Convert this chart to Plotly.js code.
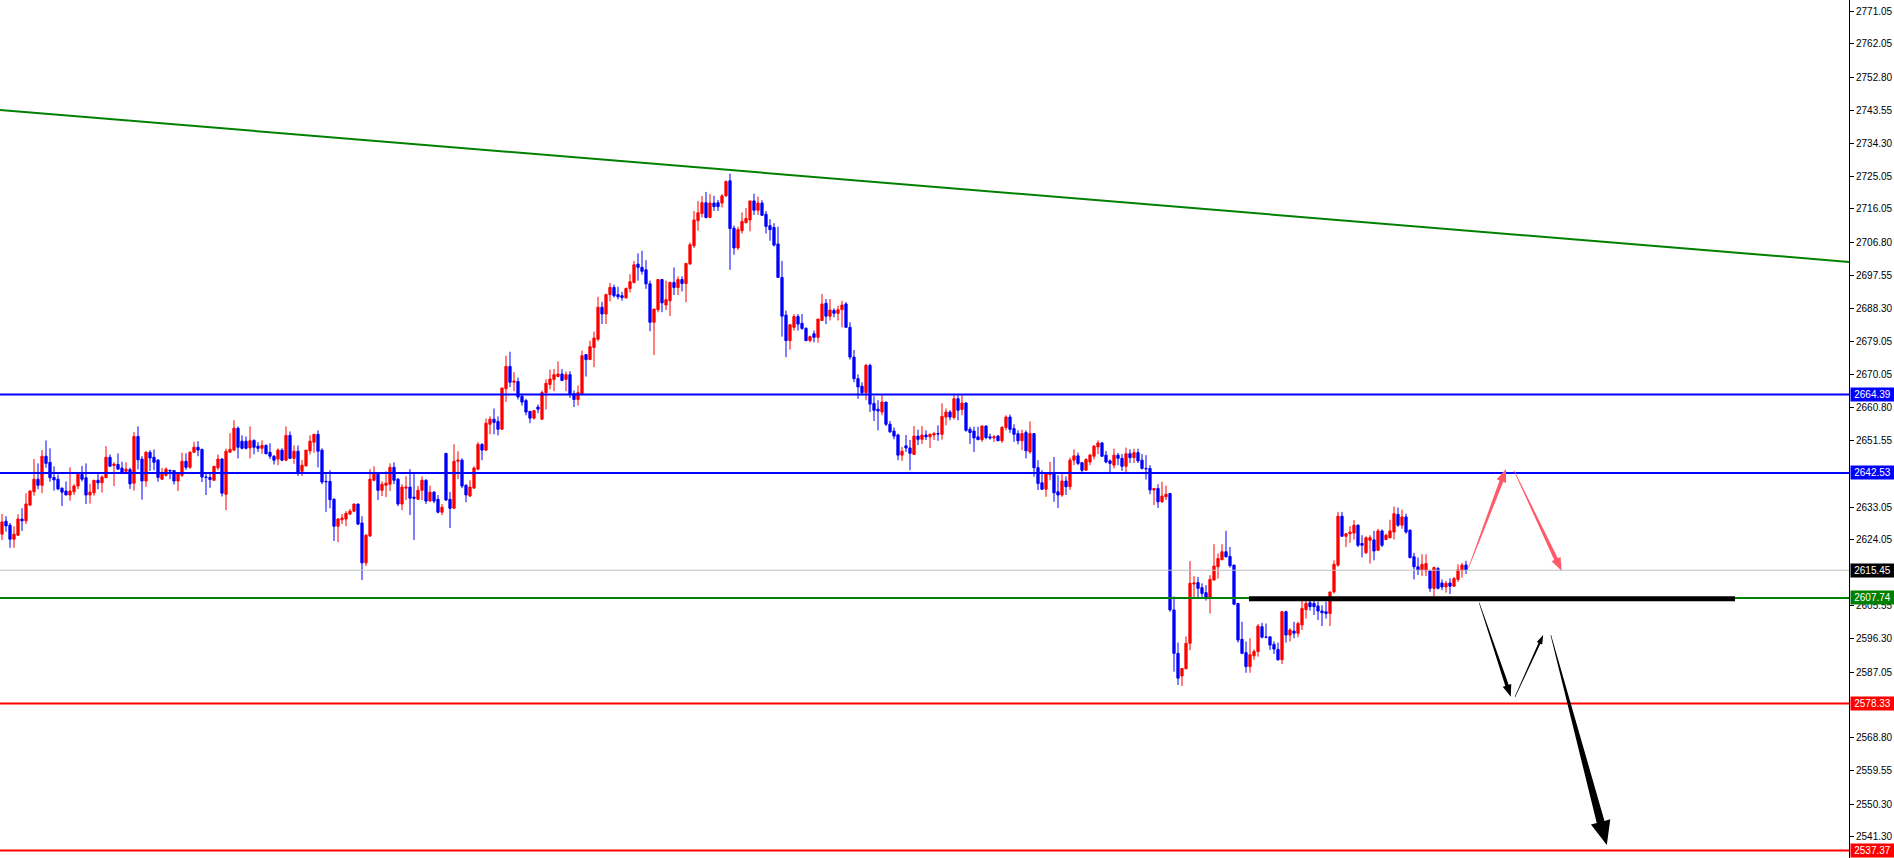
<!DOCTYPE html>
<html><head><meta charset="utf-8">
<script src="https://cdn.plot.ly/plotly-3.0.1.min.js"></script>
<style>html,body{margin:0;padding:0;background:#fff;overflow:hidden}#chart{width:1894px;height:858px}</style>
</head><body><div id="chart"></div>
<script>
const open=[2625.5,2629.1,2628.0,2624.1,2625.2,2629.7,2629.2,2633.6,2637.3,2640.8,
2639.1,2647.2,2645.5,2641.3,2640.8,2638.3,2637.5,2636.4,2637.3,2638.9,
2642.1,2641.2,2636.4,2637.0,2640.5,2639.8,2641.2,2646.9,2644.6,2644.9,
2643.9,2643.0,2643.5,2639.7,2652.7,2646.4,2640.3,2648.3,2646.9,2646.1,
2640.8,2641.9,2643.3,2643.2,2640.3,2641.9,2645.8,2644.1,2648.3,2649.7,
2649.1,2641.4,2641.3,2640.5,2644.0,2646.4,2636.6,2648.3,2648.9,2655.0,
2651.4,2651.4,2649.5,2651.6,2650.0,2649.4,2650.2,2648.3,2647.2,2646.4,
2648.9,2646.1,2653.0,2646.6,2648.6,2643.0,2644.5,2648.7,2651.1,2653.3,
2648.9,2640.2,2640.2,2635.2,2627.7,2629.5,2629.7,2631.1,2631.9,2633.9,
2628.6,2617.5,2625.0,2640.5,2642.2,2637.7,2639.1,2639.4,2644.1,2640.8,
2633.9,2638.3,2638.6,2635.8,2635.2,2637.7,2640.5,2634.7,2637.2,2635.2,
2631.6,2648.0,2635.2,2632.7,2645.8,2646.1,2639.1,2636.1,2638.3,2643.6,
2650.5,2648.9,2656.1,2657.5,2656.9,2654.7,2666.0,2672.2,2667.8,2668.0,
2663.9,2662.7,2659.7,2657.8,2660.9,2657.5,2664.9,2667.2,2668.6,2669.4,
2670.1,2668.6,2669.9,2664.6,2663.0,2664.6,2675.5,2674.1,2677.5,2679.8,
2688.7,2686.8,2692.2,2694.2,2692.2,2691.9,2691.3,2693.9,2695.6,2700.7,
2699.8,2699.1,2695.2,2684.5,2688.0,2696.4,2689.3,2690.5,2695.6,2694.2,
2696.4,2695.3,2700.7,2705.8,2712.8,2714.8,2717.8,2713.7,2717.7,2717.8,
2717.7,2719.7,2723.9,2710.7,2705.2,2710.0,2712.2,2713.0,2718.3,2715.7,
2717.7,2714.6,2711.4,2710.9,2706.3,2697.0,2686.5,2679.4,2683.1,2686.1,
2684.2,2682.8,2679.4,2681.3,2680.3,2685.0,2689.8,2686.2,2687.8,2687.0,
2688.0,2689.6,2683.1,2674.8,2668.8,2666.7,2664.9,2672.5,2661.9,2660.3,
2659.5,2662.3,2656.1,2654.2,2653.1,2647.5,2650.1,2649.5,2647.7,2652.8,
2651.9,2653.1,2652.6,2653.1,2653.5,2653.3,2658.1,2659.5,2658.0,2663.2,
2660.2,2662.0,2654.7,2654.2,2652.6,2651.8,2655.6,2652.6,2652.3,2652.8,
2651.5,2655.2,2658.1,2654.9,2653.5,2651.5,2653.8,2648.4,2653.5,2644.0,
2639.8,2638.0,2642.1,2642.6,2637.3,2636.4,2640.3,2638.7,2646.1,2647.3,
2645.4,2643.3,2645.6,2647.2,2649.8,2650.9,2647.5,2645.9,2644.7,2647.5,
2646.6,2644.4,2647.9,2646.8,2648.2,2646.1,2643.8,2643.8,2637.8,2638.2,
2634.5,2635.9,2636.8,2604.4,2592.3,2586.0,2588.0,2595.1,2611.6,2612.0,
2610.6,2609.2,2607.6,2612.7,2616.4,2618.4,2620.6,2619.3,2616.9,2606.2,
2596.2,2592.5,2588.6,2591.6,2592.8,2599.7,2596.8,2596.9,2594.8,2593.4,
2590.5,2603.9,2597.4,2598.5,2597.9,2600.2,2604.5,2606.4,2606.2,2605.5,
2604.1,2603.9,2603.4,2609.4,2616.9,2630.5,2624.9,2625.6,2625.8,2628.0,
2622.9,2620.3,2623.8,2623.9,2621.0,2626.4,2624.0,2624.5,2626.1,2631.0,
2628.0,2630.3,2626.6,2619.2,2616.4,2615.5,2615.3,2615.3,2610.4,2615.9,
2611.9,2610.8,2611.9,2611.0,2612.9,2615.4,2616.9];
const high=[2631.1,2630.5,2628.6,2627.7,2631.0,2632.7,2636.9,2637.7,2646.4,2645.2,
2648.9,2651.6,2649.4,2644.4,2642.1,2638.5,2640.2,2644.1,2639.4,2642.5,
2644.5,2645.2,2639.5,2640.5,2642.6,2641.9,2650.0,2647.7,2645.5,2648.0,
2645.7,2645.5,2644.0,2653.9,2655.5,2647.2,2648.6,2648.9,2649.1,2646.4,
2643.9,2644.1,2643.3,2643.3,2642.4,2648.2,2648.0,2648.6,2651.2,2651.4,
2649.3,2642.2,2642.4,2644.4,2647.7,2646.7,2649.3,2653.6,2657.2,2655.5,
2653.0,2652.7,2655.5,2651.9,2651.1,2651.6,2650.5,2650.8,2647.5,2649.4,
2649.4,2655.5,2654.1,2650.2,2650.2,2646.1,2648.9,2653.0,2653.3,2654.4,
2649.4,2642.2,2643.3,2635.5,2630.0,2631.1,2631.9,2632.5,2633.9,2633.9,
2630.5,2625.5,2643.6,2644.4,2642.7,2640.2,2643.0,2645.2,2645.5,2641.1,
2639.4,2641.6,2643.6,2642.2,2638.9,2641.6,2640.8,2639.0,2637.5,2636.4,
2633.9,2648.0,2637.2,2650.5,2648.6,2646.6,2639.4,2640.5,2644.4,2651.1,
2650.8,2657.7,2658.3,2660.5,2658.3,2666.2,2675.2,2676.3,2670.6,2669.1,
2664.6,2663.2,2659.7,2659.9,2661.6,2665.5,2668.6,2671.3,2671.5,2673.6,
2671.5,2670.8,2670.9,2665.5,2666.9,2676.6,2675.5,2679.4,2681.9,2691.6,
2690.2,2692.5,2695.5,2695.0,2694.4,2693.0,2694.2,2697.9,2701.6,2703.7,
2704.4,2701.8,2696.1,2688.2,2696.5,2696.5,2696.1,2695.8,2699.8,2697.3,
2697.3,2700.9,2706.7,2715.5,2718.3,2719.7,2720.8,2720.2,2719.7,2718.6,
2720.2,2724.0,2725.9,2711.4,2711.1,2715.1,2716.3,2718.3,2720.3,2719.5,
2718.5,2715.5,2713.2,2712.1,2711.1,2701.6,2687.8,2684.0,2686.8,2686.8,
2686.8,2683.1,2680.8,2682.2,2685.4,2692.4,2691.0,2691.0,2688.4,2689.1,
2690.5,2690.1,2684.5,2676.8,2670.0,2667.8,2672.9,2673.0,2663.9,2662.8,
2664.2,2662.3,2657.0,2655.2,2653.5,2649.8,2653.1,2651.7,2655.6,2654.6,
2655.6,2654.4,2653.5,2654.0,2655.8,2661.9,2660.5,2660.0,2664.2,2664.2,
2664.2,2662.3,2655.4,2655.4,2655.4,2655.8,2655.8,2653.5,2653.1,2653.1,
2655.6,2658.6,2658.8,2656.1,2654.4,2654.6,2654.4,2656.9,2653.5,2646.1,
2643.3,2642.4,2645.6,2647.0,2641.9,2642.6,2641.6,2646.8,2649.1,2648.2,
2645.6,2646.6,2647.9,2650.3,2651.6,2651.2,2648.7,2646.3,2649.3,2648.1,
2647.8,2649.6,2649.1,2649.3,2649.3,2647.8,2647.5,2644.7,2638.2,2639.4,
2640.1,2639.0,2637.0,2608.1,2595.3,2588.1,2597.0,2618.0,2613.8,2613.6,
2611.8,2611.3,2614.1,2622.7,2620.1,2622.7,2626.4,2621.9,2616.9,2606.2,
2601.1,2595.6,2596.5,2593.4,2600.5,2600.8,2600.6,2596.9,2595.6,2595.3,
2603.9,2604.2,2599.3,2601.1,2601.1,2607.1,2607.1,2607.1,2606.9,2606.7,
2605.7,2606.7,2609.4,2618.2,2631.7,2631.7,2625.8,2627.7,2629.4,2628.2,
2625.2,2624.9,2625.2,2626.4,2627.0,2626.8,2625.6,2629.5,2633.2,2632.9,
2632.3,2631.2,2626.8,2620.3,2619.0,2619.9,2619.9,2615.6,2616.4,2616.4,
2612.9,2612.5,2613.2,2613.6,2617.1,2617.5,2618.1];
const low=[2623.9,2626.2,2621.7,2621.7,2625.0,2626.4,2628.3,2633.3,2636.2,2638.0,
2636.9,2644.0,2640.1,2637.6,2637.7,2633.3,2636.4,2634.8,2636.4,2638.0,
2640.2,2633.9,2634.0,2636.2,2638.0,2637.1,2641.2,2644.4,2638.9,2643.6,
2642.2,2642.2,2638.1,2637.6,2643.5,2635.1,2638.7,2643.1,2643.3,2640.1,
2640.6,2641.5,2640.8,2639.3,2637.5,2641.4,2643.4,2643.7,2648.1,2647.2,
2640.0,2636.4,2638.4,2640.3,2643.3,2636.0,2632.2,2648.3,2648.6,2646.6,
2649.1,2649.1,2646.6,2647.7,2648.4,2647.9,2647.7,2646.4,2644.9,2644.7,
2645.8,2645.8,2646.4,2645.1,2641.7,2641.7,2644.4,2647.7,2648.2,2644.1,
2639.4,2631.7,2632.7,2623.6,2623.3,2628.3,2627.7,2630.8,2631.6,2628.0,
2612.7,2616.6,2624.7,2640.2,2635.0,2636.1,2635.8,2637.5,2639.4,2633.3,
2632.2,2635.0,2630.8,2623.9,2635.2,2635.0,2633.9,2634.7,2634.1,2631.3,
2630.8,2634.7,2627.2,2632.7,2640.8,2638.3,2634.4,2635.9,2638.3,2643.3,
2646.1,2648.6,2653.3,2653.3,2653.0,2654.6,2662.3,2666.4,2665.3,2663.0,
2661.3,2658.6,2656.4,2657.4,2659.2,2657.4,2660.2,2665.8,2665.3,2669.2,
2668.1,2665.3,2663.4,2660.9,2661.3,2664.6,2669.4,2674.0,2672.0,2679.2,
2684.0,2684.0,2690.3,2691.4,2690.9,2690.5,2691.1,2692.8,2695.3,2696.1,
2697.8,2693.8,2682.0,2675.4,2687.3,2687.3,2687.9,2686.2,2692.1,2692.1,
2693.1,2690.1,2700.7,2705.2,2710.0,2713.7,2713.4,2713.5,2715.5,2715.5,
2716.5,2719.5,2699.1,2703.3,2704.6,2709.2,2712.2,2709.8,2714.4,2714.4,
2714.1,2709.2,2707.2,2705.6,2697.0,2680.5,2674.8,2676.9,2682.2,2682.2,
2682.4,2679.2,2678.9,2678.9,2678.8,2685.0,2684.0,2685.0,2685.9,2685.0,
2683.1,2683.1,2674.1,2667.8,2663.2,2664.1,2662.8,2659.5,2657.0,2654.4,
2658.6,2655.6,2653.7,2651.9,2646.1,2645.9,2648.4,2643.3,2647.7,2650.3,
2650.6,2651.7,2649.5,2651.7,2651.5,2651.8,2655.8,2657.2,2657.4,2657.2,
2658.6,2654.0,2650.6,2648.4,2651.7,2651.2,2651.9,2651.8,2651.2,2651.5,
2650.9,2654.4,2653.7,2651.2,2650.5,2648.9,2646.6,2647.9,2641.5,2637.8,
2637.8,2635.9,2640.5,2634.5,2632.8,2635.9,2636.4,2637.8,2644.7,2644.7,
2642.8,2643.3,2644.7,2646.3,2647.8,2647.0,2645.2,2642.8,2643.8,2644.7,
2643.1,2642.2,2645.3,2645.3,2645.3,2643.5,2640.7,2636.6,2633.6,2632.8,
2634.2,2635.0,2603.9,2587.2,2583.5,2583.2,2587.9,2593.2,2607.6,2607.6,
2607.6,2607.0,2603.4,2612.7,2613.1,2618.2,2619.0,2616.2,2605.7,2595.3,
2592.1,2586.9,2586.9,2590.5,2591.4,2596.5,2596.5,2593.2,2592.1,2590.3,
2589.3,2595.3,2595.6,2596.5,2596.8,2598.8,2602.0,2604.2,2603.0,2601.6,
2599.9,2602.0,2599.9,2609.0,2616.4,2624.9,2621.9,2623.1,2624.0,2621.9,
2619.0,2620.0,2617.3,2618.2,2620.8,2621.9,2623.8,2624.3,2624.0,2627.5,
2627.0,2625.6,2618.7,2612.9,2614.1,2613.8,2613.8,2609.4,2608.2,2610.1,
2609.9,2609.2,2608.8,2610.8,2612.2,2613.4,2614.4];
const close=[2628.9,2627.8,2624.1,2625.5,2629.7,2629.2,2633.9,2637.5,2640.8,2639.1,
2647.2,2645.2,2641.2,2640.6,2638.1,2637.2,2636.4,2637.5,2638.9,2642.2,
2640.8,2636.4,2637.2,2640.5,2639.8,2641.4,2646.9,2644.4,2645.0,2643.6,
2642.7,2643.6,2639.5,2652.7,2646.2,2640.3,2648.3,2646.7,2645.5,2641.3,
2642.2,2643.6,2643.1,2640.3,2642.2,2645.8,2644.1,2648.3,2649.7,2648.9,
2641.4,2641.3,2640.7,2644.4,2646.4,2636.9,2648.6,2649.1,2655.0,2649.7,
2649.4,2649.4,2651.5,2649.7,2649.4,2650.2,2647.9,2647.2,2646.1,2648.9,
2646.1,2653.0,2646.6,2648.6,2642.8,2644.7,2648.9,2651.4,2653.3,2648.6,
2640.0,2640.1,2635.1,2627.7,2629.7,2630.0,2631.3,2631.9,2633.9,2628.3,
2617.5,2625.2,2640.8,2642.2,2637.7,2639.4,2639.7,2644.1,2640.5,2633.9,
2638.6,2638.6,2635.5,2635.5,2637.7,2640.5,2634.7,2637.2,2634.7,2631.6,
2633.0,2635.0,2632.7,2645.8,2646.1,2638.9,2636.4,2638.6,2643.9,2650.5,
2648.9,2656.4,2657.5,2656.6,2654.7,2666.2,2672.2,2667.8,2668.1,2663.7,
2662.3,2659.5,2657.8,2659.9,2660.3,2664.9,2667.5,2668.7,2669.9,2670.1,
2668.3,2669.9,2664.4,2663.0,2664.9,2675.2,2674.1,2677.7,2680.1,2688.7,
2686.8,2692.2,2694.2,2691.9,2691.6,2691.4,2693.9,2695.8,2700.5,2699.8,
2698.7,2695.2,2684.5,2688.2,2696.4,2689.9,2690.8,2695.6,2694.2,2696.4,
2695.3,2700.9,2706.1,2713.0,2715.0,2717.8,2713.7,2717.7,2716.7,2716.7,
2719.7,2723.7,2710.6,2705.2,2710.3,2712.6,2713.4,2718.3,2715.7,2717.7,
2714.3,2711.2,2710.3,2706.0,2697.0,2686.2,2679.4,2683.8,2686.1,2684.0,
2682.8,2679.4,2680.5,2680.3,2685.4,2689.6,2686.2,2687.9,2687.0,2688.0,
2689.3,2683.1,2674.8,2668.8,2666.5,2664.9,2672.5,2661.7,2660.0,2659.8,
2662.3,2656.1,2654.0,2652.8,2647.5,2648.6,2649.5,2648.0,2652.8,2651.9,
2653.1,2652.6,2653.3,2653.5,2653.4,2658.3,2659.5,2658.1,2663.2,2660.0,
2662.0,2654.4,2653.8,2652.3,2651.8,2655.6,2652.4,2652.3,2652.6,2651.5,
2655.2,2658.1,2654.7,2653.3,2651.5,2653.5,2648.7,2653.5,2644.0,2639.6,
2638.0,2642.2,2642.6,2637.0,2636.4,2640.3,2638.7,2646.1,2647.3,2645.2,
2643.3,2646.3,2647.5,2650.0,2650.9,2647.2,2645.6,2645.2,2647.5,2646.6,
2644.4,2647.9,2646.8,2648.2,2645.9,2643.8,2643.7,2637.8,2638.2,2634.5,
2636.1,2636.6,2604.4,2592.3,2585.4,2588.1,2595.1,2611.8,2611.9,2610.4,
2609.0,2607.6,2612.9,2616.6,2618.7,2620.6,2619.2,2616.7,2606.0,2596.0,
2592.3,2588.6,2591.9,2592.8,2599.9,2596.8,2596.8,2594.6,2593.5,2590.5,
2603.9,2597.4,2598.8,2597.9,2600.6,2604.8,2606.2,2605.3,2605.3,2604.1,
2603.6,2603.4,2609.4,2617.1,2630.5,2624.9,2625.6,2626.1,2628.0,2622.4,
2622.4,2624.5,2624.5,2620.8,2626.4,2622.4,2625.2,2626.4,2631.2,2628.0,
2630.3,2626.1,2619.0,2616.4,2615.5,2617.1,2617.3,2610.4,2616.2,2610.4,
2610.8,2611.8,2611.0,2613.1,2615.6,2616.9,2615.5];

// price levels drawn as horizontal lines with axis labels
const levelValues=[2664.39,2642.53,2615.45,2607.74,2578.33,2537.37];
const levelColors=['#0000FF','#0000FF','#000000','#008000','#FF0000','#FF0000'];
const levelLineColors=['#0000FF','#0000FF','#C0C0C0','#008000','#FF0000','#FF0000'];
const levelLineWidths=[2,2,1,2,2,2];

// right axis ticks
const tickValues=[2771.05,2762.05,2752.80,2743.55,2734.30,2725.05,2716.05,2706.80,2697.55,2688.30,2679.05,2670.05,2660.80,2651.55,2633.05,2624.05,2605.55,2596.30,2587.05,2568.80,2559.55,2550.30,2541.30];

// trend line (bar index, price)
const trendBars=[-0.5,461.75];
const trendPrices=[2743.6,2701.3];
// thick support stroke (bar index from/to, price)
const supportBars=[311.75,433.25];
const supportPrice=2607.5;
// projection arrows: [tailBar, tailPrice, tipBar, tipPrice]
const pinkArrows=[[366.6,2616.0,376.0,2643.65],[378.0,2643.2,389.9,2615.3]];
const blackArrows=[[369.3,2606.4,377.2,2580.2],[378.25,2580.2,385.3,2597.4],[387.2,2597.4,401.2,2538.9]];

const W=1849,H=858;
const xr=[-0.5,461.75], yr=[2535.31,2774.25];
function toPx(x,y){return [(x-xr[0])/(xr[1]-xr[0])*W,(yr[1]-y)/(yr[1]-yr[0])*H];}
function toData(px,py){return [xr[0]+px/W*(xr[1]-xr[0]), yr[1]-py/H*(yr[1]-yr[0])];}
function arrowPath(a,w,hw,hl){
  const T=toPx(a[0],a[1]), P=toPx(a[2],a[3]);
  const dx=P[0]-T[0], dy=P[1]-T[1], L=Math.hypot(dx,dy);
  const ux=dx/L, uy=dy/L, nx=-uy, ny=ux;
  const B=[P[0]-ux*hl,P[1]-uy*hl];
  const pts=[[T[0]+nx*0.3,T[1]+ny*0.3],[B[0]+nx*w/2,B[1]+ny*w/2],[B[0]+nx*hw/2,B[1]+ny*hw/2],P,
    [B[0]-nx*hw/2,B[1]-ny*hw/2],[B[0]-nx*w/2,B[1]-ny*w/2],[T[0]-nx*0.3,T[1]-ny*0.3]];
  return pts.map((p,k)=>{const d=toData(p[0],p[1]);return (k?'L':'M')+d[0]+','+d[1];}).join(' ')+' Z';
}

const xs=open.map((_,i)=>i);
const trace={type:'candlestick',x:xs,open:open,high:high,low:low,close:close,
  increasing:{line:{color:'#FF0000',width:1},fillcolor:'#FF0000'},
  decreasing:{line:{color:'#0000FF',width:1},fillcolor:'#0000FF'},
  whiskerwidth:0,hoverinfo:'skip',showlegend:false};

const shapes=[];
levelValues.forEach((v,k)=>{
  shapes.push({type:'line',xref:'paper',yref:'y',x0:0,x1:1,y0:v,y1:v,line:{color:levelLineColors[k],width:levelLineWidths[k]}});
});
shapes.push({type:'line',xref:'x',yref:'y',x0:trendBars[0],x1:trendBars[1],y0:trendPrices[0],y1:trendPrices[1],line:{color:'#008000',width:2}});
shapes.push({type:'line',xref:'x',yref:'y',x0:supportBars[0],x1:supportBars[1],y0:supportPrice,y1:supportPrice,line:{color:'#000000',width:5}});
const pinkStyle=[[4,10,13],[4,10,13]];
const blackStyle=[[3.5,9,12],[2,6,9],[8,20,24]];
pinkArrows.forEach((a,k)=>shapes.push({type:'path',xref:'x',yref:'y',path:arrowPath(a,...pinkStyle[k]),fillcolor:'#FF5A6A',line:{width:0}}));
blackArrows.forEach((a,k)=>shapes.push({type:'path',xref:'x',yref:'y',path:arrowPath(a,...blackStyle[k]),fillcolor:'#000000',line:{width:0}}));

const annotations=levelValues.map((v,k)=>({xref:'paper',yref:'y',x:1,y:v,xanchor:'left',yanchor:'middle',xshift:1,
  text:v.toFixed(2),showarrow:false,bgcolor:levelColors[k],borderpad:1,width:41,align:'center',
  font:{family:'Liberation Sans, Arial, sans-serif',size:10,color:'#FFFFFF'}}));

const layout={width:1894,height:858,margin:{l:0,r:45,t:0,b:0},paper_bgcolor:'#FFFFFF',plot_bgcolor:'#FFFFFF',
  showlegend:false,boxgap:0.2,
  xaxis:{range:xr,visible:false,rangeslider:{visible:false},fixedrange:true},
  yaxis:{range:yr,side:'right',showgrid:false,zeroline:false,showline:true,linecolor:'#000000',linewidth:1,
    ticks:'outside',ticklen:4,tickwidth:1,tickcolor:'#000000',tickvals:tickValues,ticktext:tickValues.map(v=>v.toFixed(2)),
    tickfont:{family:'Liberation Sans, Arial, sans-serif',size:10,color:'#000000'},fixedrange:true},
  shapes:shapes,annotations:annotations};
Plotly.newPlot('chart',[trace],layout,{staticPlot:true,displayModeBar:false});
</script></body></html>
